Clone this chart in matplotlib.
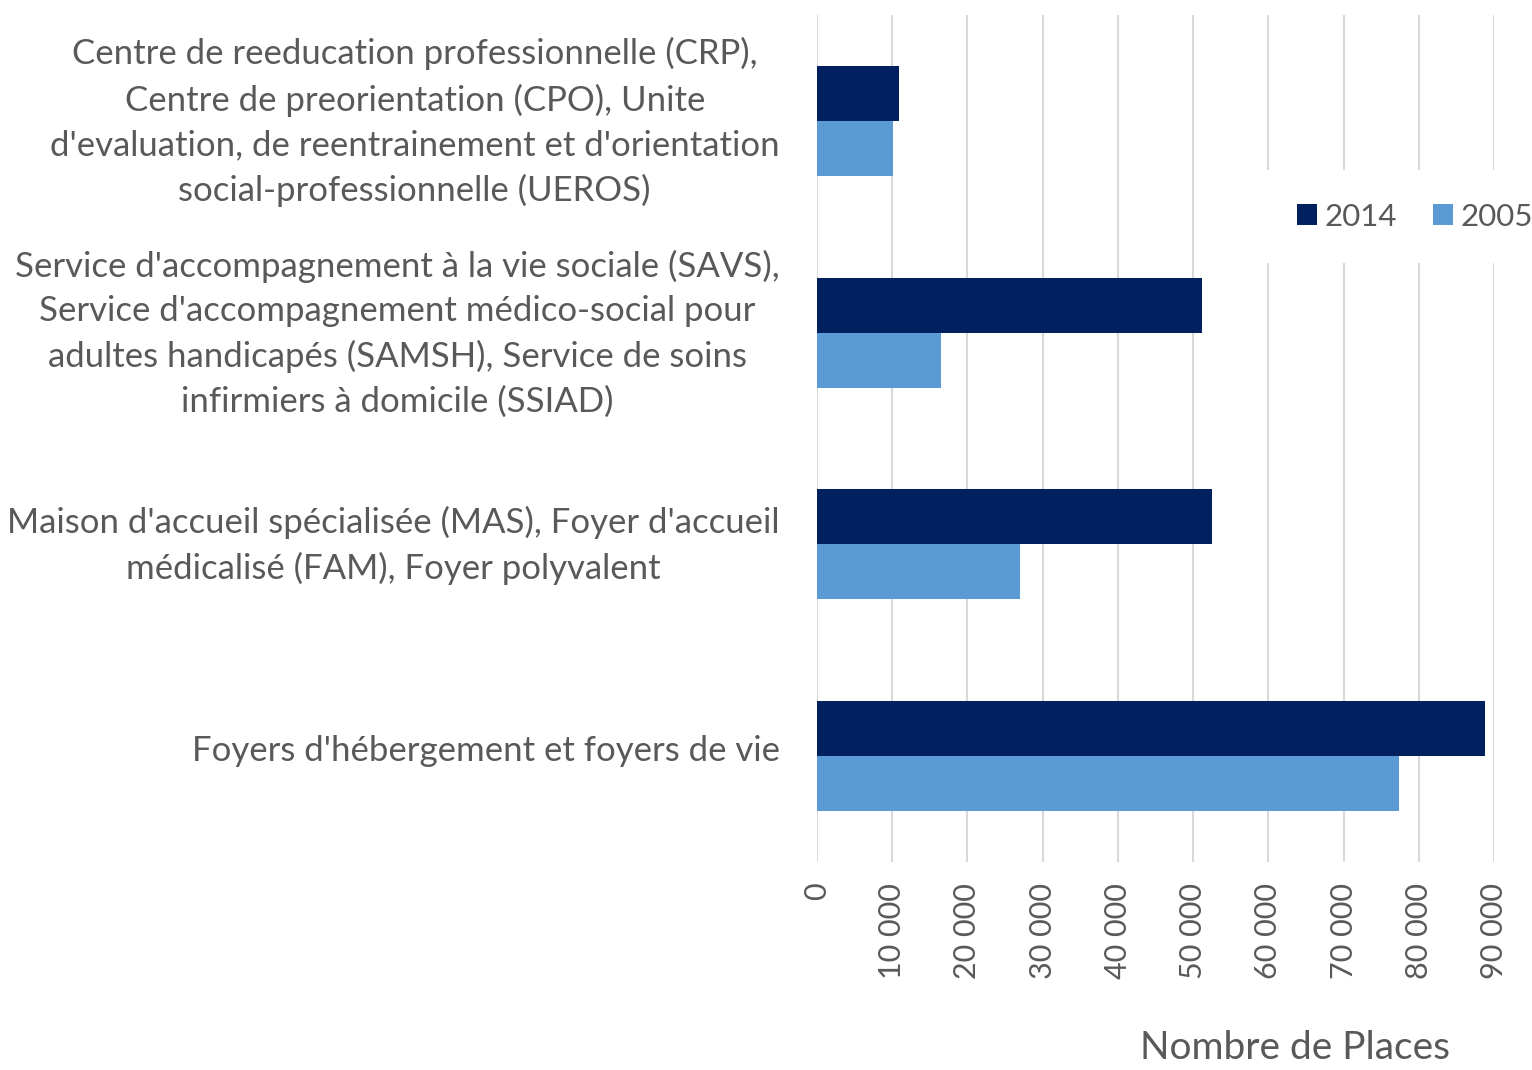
import matplotlib
matplotlib.use('Agg')
import matplotlib.pyplot as plt
from matplotlib.ticker import FuncFormatter, MultipleLocator
import numpy as np

plt.rcParams['font.family'] = ['Lato', 'DejaVu Sans']

categories = [
    "Centre de reeducation professionnelle (CRP),\nCentre de preorientation (CPO), Unite\nd'evaluation, de reentrainement et d'orientation\nsocial-professionnelle (UEROS)",
    "Service d'accompagnement à la vie sociale (SAVS),\nService d'accompagnement médico-social pour\nadultes handicapés (SAMSH), Service de soins\ninfirmiers à domicile (SSIAD)",
    "Maison d'accueil spécialisée (MAS), Foyer d'accueil\nmédicalisé (FAM), Foyer polyvalent",
    "Foyers d'hébergement et foyers de vie",
]
places_2014 = [10900, 51200, 52500, 88800]
places_2005 = [10150, 16500, 26950, 77350]

grey = '#595959'
c2014 = '#002060'
c2005 = '#5B9BD5'

fig = plt.figure(figsize=(15.32, 10.70), dpi=100)
ax = fig.add_axes([0.5333, 0.1944, 0.4419, 0.7916])

y = np.arange(len(categories))
h = 0.26
ax.barh(y - h / 2, places_2014, height=h, color=c2014, label='2014', zorder=3)
ax.barh(y + h / 2, places_2005, height=h, color=c2005, label='2005', zorder=3)

ax.set_ylim(len(categories) - 0.5, -0.5)
ax.set_xlim(0, 90000)
ax.xaxis.set_major_locator(MultipleLocator(10000))
ax.xaxis.set_major_formatter(FuncFormatter(lambda v, p: '{:,.0f}'.format(v).replace(',', ' ')))
ax.grid(axis='x', color='#D9D9D9', linewidth=1.5, zorder=0)
for s in ax.spines.values():
    s.set_visible(False)

# labels sit a little above the group centre (ticks are hidden)
ax.set_yticks(y - 0.038)
ax.set_yticklabels(categories, fontsize=25, color=grey)
for t in ax.get_yticklabels():
    t.set_multialignment('center')
    t.set_linespacing(1.48)
ax.tick_params(axis='y', length=0, pad=27)
ax.tick_params(axis='x', length=0, pad=15, labelsize=22, labelcolor=grey, labelrotation=90)

ax.set_xlabel('Nombre de Places', fontsize=28, color=grey, va='center')
ax.xaxis.set_label_coords(0.706, -0.22)

leg = fig.legend(loc='center', bbox_to_anchor=(0.9235, 0.7975), ncol=2, frameon=True,
                 fontsize=22.5, handlelength=0.64, handleheight=0.64, handletextpad=0.25,
                 columnspacing=1.15, borderpad=1.05, edgecolor='none', facecolor='white',
                 framealpha=1.0, fancybox=False)
for t in leg.get_texts():
    t.set_color(grey)

fig.savefig('out.png', dpi=100)
